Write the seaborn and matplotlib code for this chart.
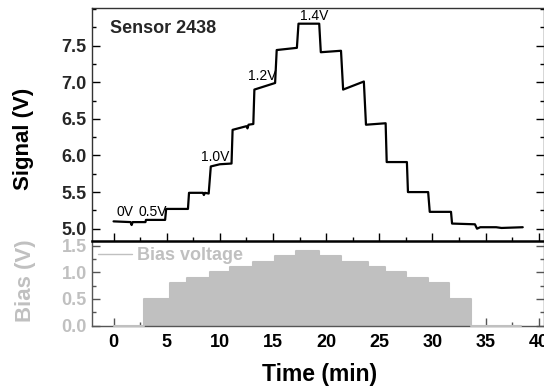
import matplotlib
matplotlib.use("Agg")
import matplotlib.pyplot as plt
from matplotlib.ticker import MultipleLocator
import seaborn as sns
import pandas as pd

# ---- data ----
time_min = [0.0, 1.6, 1.7, 1.8, 3.0, 3.05, 4.85, 4.95, 7.0, 7.1, 8.4, 8.5, 8.6, 8.95,
            9.15, 10.0, 11.1, 11.2, 12.5, 12.6, 12.7, 13.15, 13.25, 15.2, 15.35,
            17.25, 17.4, 19.35, 19.5, 21.4, 21.6, 23.55, 23.75, 25.6, 25.7, 27.6,
            27.7, 29.6, 29.75, 31.75, 31.85, 34.0, 34.2, 34.5, 36.0, 36.5, 38.5]
signal_v = [5.10, 5.09, 5.05, 5.09, 5.09, 5.12, 5.12, 5.27, 5.27, 5.49, 5.49, 5.46, 5.49, 5.48,
            5.85, 5.88, 5.89, 6.35, 6.40, 6.37, 6.42, 6.43, 6.90, 6.99, 7.44,
            7.47, 7.80, 7.80, 7.41, 7.43, 6.90, 7.01, 6.42, 6.44, 5.91, 5.91,
            5.50, 5.50, 5.23, 5.23, 5.07, 5.06, 5.00, 5.02, 5.02, 5.01, 5.02]

bias_t = [0, 2.9, 5.3, 6.95, 9.05, 11.0, 13.1, 15.2, 17.2, 19.3, 21.4, 23.9, 25.5,
          27.5, 29.6, 31.6, 33.6, 38.3]
bias_v = [0, 0.5, 0.8, 0.9, 1.0, 1.1, 1.2, 1.3, 1.4, 1.3, 1.2, 1.1, 1.0, 0.9, 0.8,
          0.5, 0, 0]

ann_text = ["0V", "0.5V", "1.0V", "1.2V", "1.4V"]
ann_x = [1.05, 3.7, 9.55, 14.0, 18.85]
ann_y = [5.23, 5.23, 5.98, 7.09, 7.90]

x_ticks = [0, 5, 10, 15, 20, 25, 30, 35, 40]
sig_ticks = [5.0, 5.5, 6.0, 6.5, 7.0, 7.5]
bias_ticks = [0.0, 0.5, 1.0, 1.5]

# ---- styling ----
sns.set_theme(style="ticks")
plt.rcParams["font.family"] = ["Liberation Sans", "DejaVu Sans"]
plt.rcParams["font.weight"] = "bold"

GRAY = "#c0c0c0"
DARK = "#555555"

fig = plt.figure(figsize=(5.44, 3.87), dpi=100)
W, H = 544.0, 387.0
left = 92.3 / W
ax1 = fig.add_axes([left, 1 - 240.7 / H, 1.0 - left, (240.7 - 8.3) / H])
ax2 = fig.add_axes([left, 1 - 325.7 / H, 1.0 - left, (325.7 - 240.7) / H], sharex=ax1)

df_sig = pd.DataFrame({"t": time_min, "s": signal_v})
sns.lineplot(data=df_sig, x="t", y="s", ax=ax1, color="black", lw=1.6,
             estimator=None, sort=False)

df_b = pd.DataFrame({"t": bias_t, "v": bias_v})
ax2.fill_between(df_b["t"], df_b["v"], step="post", color=GRAY, lw=0)
sns.lineplot(data=df_b, x="t", y="v", ax=ax2, color=GRAY, lw=1.5,
             drawstyle="steps-post", estimator=None, sort=False,
             label="Bias voltage", clip_on=False, zorder=5)

ax1.set_xlim(-2.0, 40.5)
ax1.set_ylim(4.836, 8.01)
ax2.set_ylim(0, 1.59)

for ax in (ax1, ax2):
    ax.set_xlabel("")
    ax.set_ylabel("")

# ticks
ax1.set_yticks(sig_ticks)
ax1.yaxis.set_minor_locator(MultipleLocator(0.25))
ax1.set_xticks(x_ticks)
ax1.xaxis.set_minor_locator(MultipleLocator(2.5))
ax1.tick_params(axis="both", which="both", direction="in", top=False, right=True,
                bottom=True, labelbottom=False, color="black", width=1.0)
ax1.tick_params(axis="both", which="major", length=5.5)
ax1.tick_params(axis="both", which="minor", length=3)
ax1.tick_params(axis="y", labelsize=13, pad=4)
for lab in ax1.get_yticklabels():
    lab.set_fontweight("bold")

ax2.set_yticks(bias_ticks)
ax2.yaxis.set_minor_locator(MultipleLocator(0.25))
ax2.tick_params(axis="both", which="both", direction="in", top=False, right=True,
                bottom=True, color=DARK, width=1.0)
ax2.tick_params(axis="both", which="major", length=5.5)
ax2.tick_params(axis="both", which="minor", length=3)
ax2.tick_params(axis="y", labelsize=13, pad=4, labelcolor=GRAY)
ax2.tick_params(axis="x", labelsize=13, pad=6, labelcolor="black")
ax2.set_xticks(x_ticks)
ax2.set_xticklabels([str(v) for v in x_ticks])
for lab in ax2.get_yticklabels() + ax2.get_xticklabels():
    lab.set_fontweight("bold")

# spines
for sp in ax1.spines.values():
    sp.set_color("#333333")
    sp.set_linewidth(1.0)
ax1.spines["bottom"].set_visible(False)
for sp in ax2.spines.values():
    sp.set_color(DARK)
    sp.set_linewidth(1.0)
ax2.spines["top"].set_color("black")
ax2.spines["top"].set_linewidth(1.8)

# annotations
for t, x, y in zip(ann_text, ann_x, ann_y):
    ax1.text(x, y, t, ha="center", va="center", fontsize=10, fontweight="normal",
             color="black")
ax1.text(0.039, 0.911, "Sensor 2438", transform=ax1.transAxes, ha="left",
         va="center", fontsize=13, fontweight="bold")

# legend
leg = ax2.legend(loc="center left", bbox_to_anchor=(0.012, 0.824), frameon=False,
                 fontsize=13, handlelength=1.9, handletextpad=0.3, borderpad=0,
                 borderaxespad=0)
for txt in leg.get_texts():
    txt.set_color(GRAY)
    txt.set_fontweight("bold")
for h in leg.get_lines():
    h.set_linewidth(1.0)

# axis labels
fig.text(23 / W, 1 - 139 / H, "Signal (V)", rotation=90, ha="center", va="center",
         fontsize=16, fontweight="bold", color="black")
fig.text(25 / W, 1 - 281 / H, "Bias (V)", rotation=90, ha="center", va="center",
         fontsize=16, fontweight="bold", color=GRAY)
fig.text(320 / W, 1 - 375 / H, "Time (min)", ha="center", va="center",
         fontsize=16.5, fontweight="bold", color="black")

fig.savefig("out.png", dpi=100)
